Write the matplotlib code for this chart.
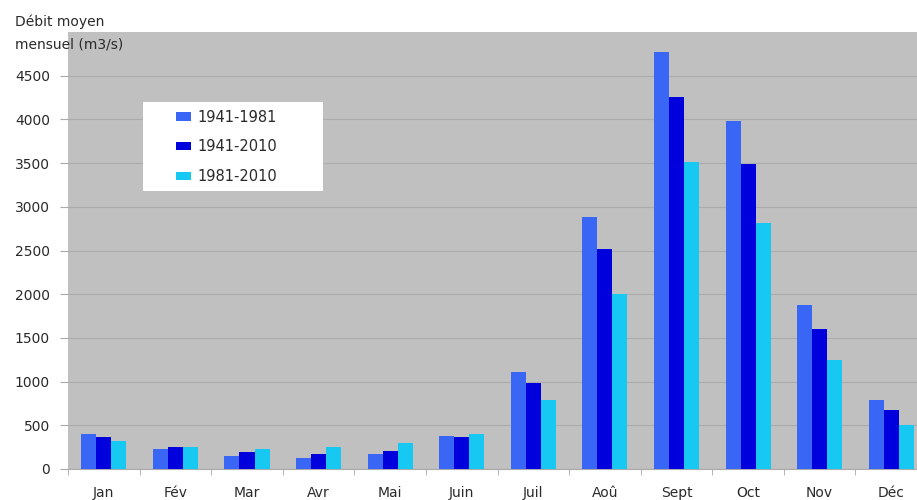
import matplotlib.pyplot as plt
import matplotlib.patches as mpatches
import numpy as np

months = ["Jan", "Fév", "Mar", "Avr", "Mai", "Juin", "Juil", "Aoû", "Sept", "Oct", "Nov", "Déc"]
series_names = ["1941-1981", "1941-2010", "1981-2010"]
q_1941_1981 = [400, 225, 150, 130, 170, 383, 1113, 2881, 4772, 3987, 1871, 784]
q_1941_2010 = [365, 250, 190, 170, 210, 371, 984, 2514, 4255, 3490, 1607, 677]
q_1981_2010 = [315, 250, 230, 255, 300, 405, 792, 1997, 3516, 2820, 1251, 505]
y_ticks = [0, 500, 1000, 1500, 2000, 2500, 3000, 3500, 4000, 4500]

colors = ["#3a66f5", "#0000dc", "#17c8f2"]


def main():
    plt.rcParams['font.family'] = ['DejaVu Sans']
    fig = plt.figure(figsize=(9.17, 5.0), dpi=100)
    ax = fig.add_axes([0.0742, 0.062, 0.9258, 0.874])
    ax.set_facecolor("#c0c0c0")

    x = np.arange(len(months))
    w = 0.21
    for i, vals in enumerate([q_1941_1981, q_1941_2010, q_1981_2010]):
        ax.bar(x + (i - 1) * w, vals, width=w, color=colors[i],
               label=series_names[i], zorder=3)

    ax.set_xlim(-0.5, 11.36)
    ax.set_ylim(0, 5000)
    ax.set_yticks(y_ticks)
    ax.set_yticklabels([str(t) for t in y_ticks], fontsize=10, color="#2a2a2a")
    ax.yaxis.grid(True, color="#acacac", linewidth=0.8, zorder=0)

    ax.set_xticks(x)
    ax.set_xticklabels(months, fontsize=10, color="#2a2a2a")
    ax.tick_params(axis="x", length=0, pad=12)
    ax.set_xticks(np.arange(-0.5, 11.5, 1), minor=True)
    ax.tick_params(axis="x", which="minor", length=4, color="#aaaaaa")
    ax.tick_params(axis="y", length=6, color="#aaaaaa", pad=7)

    for side in ["top", "right", "left"]:
        ax.spines[side].set_visible(False)
    ax.spines["bottom"].set_color("#aaaaaa")

    fig.text(0.016, 0.948, "Débit moyen", fontsize=10, color="#2a2a2a")
    fig.text(0.016, 0.902, "mensuel (m3/s)", fontsize=10, color="#2a2a2a")

    # white legend box
    box = mpatches.Rectangle((0.0883, 0.636), 0.2121, 0.2038, transform=ax.transAxes,
                             facecolor="white", edgecolor="none", zorder=4)
    ax.add_patch(box)
    leg = ax.legend(loc="upper left", bbox_to_anchor=(0.1272, 0.822), fontsize=10.5,
                    frameon=False, handlelength=1.0, handleheight=0.5,
                    borderpad=0, labelspacing=1.0, borderaxespad=0,
                    handletextpad=0.45)
    leg.set_zorder(5)
    for t in leg.get_texts():
        t.set_color("#2a2a2a")

    fig.savefig("out.png", dpi=100, facecolor="white")


if __name__ == '__main__':
    main()
